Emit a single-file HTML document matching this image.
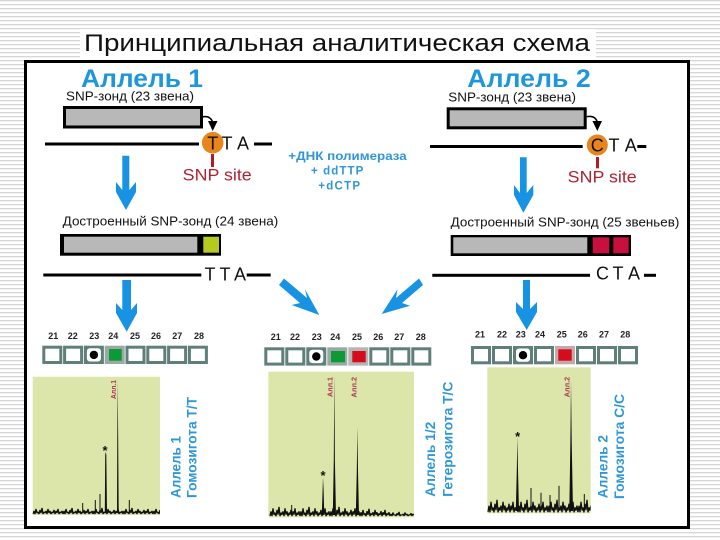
<!DOCTYPE html>
<html><head><meta charset="utf-8"><style>
html,body{margin:0;padding:0;background:#fff}
svg{display:block}
text{font-family:"Liberation Sans",sans-serif}
.b{fill:#1e96dc;font-weight:bold}
.k{fill:#111}
.n{font-size:9px;font-weight:bold;fill:#222;text-anchor:middle}
.l{font-size:7px;font-weight:bold;fill:#a8324e}
.r{fill:#2d97d8;font-weight:bold;font-size:14px}
.a{fill:#1893e4}
.s{fill:#dde6aa}
.p{fill:none;stroke:#111;stroke-width:1.3;stroke-linejoin:bevel}
.q{fill:none;stroke:#111;stroke-width:1}
</style></head><body>
<svg width="720" height="540" viewBox="0 0 720 540" xmlns="http://www.w3.org/2000/svg">
<defs>
<pattern id="st" width="4" height="4" patternUnits="userSpaceOnUse"><rect width="4" height="4" fill="#fff"/><rect y="0" width="4" height="1.3" fill="#d6d6d6"/></pattern>
<g id="cell"><rect x="0" y="0" width="20" height="18.3" fill="#5f7f7a"/><rect x="3" y="3" width="14" height="12.3" fill="#fff"/></g>
<g id="dot"><rect x="0" y="0" width="20" height="18.3" fill="#5f7f7a"/><rect x="3" y="2.5" width="14" height="13.3" rx="3" fill="#fff"/><circle cx="10" cy="9.2" r="4.2" fill="#000"/></g>
<polyline id="nz" class="p" points="0,0 1,-3 2,0 3,-5 4,-1 5,-2 6,0 7,-4 8,-1 9,-6 10,0 11,-2 12,-1 13,-3 14,0 15,-5 16,-1 17,-3 18,0 19,-2 20,-1 21,-4 22,0 23,-3 24,-1 25,-5 26,0 27,-2 28,-1 29,-3 30,0"/>
<clipPath id="c1"><rect x="32.7" y="376.7" width="127.3" height="138.3"/></clipPath>
<clipPath id="c2"><rect x="268.3" y="371.7" width="145.7" height="145.6"/></clipPath>
<clipPath id="c3"><rect x="487.3" y="367.3" width="103.4" height="146"/></clipPath>
</defs>
<rect width="720" height="540" fill="url(#st)"/>
<rect x="80" y="29" width="516" height="31" fill="#fff"/>
<text x="84" y="51" font-size="24" textLength="506" lengthAdjust="spacingAndGlyphs" fill="#111">Принципиальная аналитическая схема</text>
<rect x="25.5" y="61.5" width="663" height="466" fill="#fff" stroke="#000" stroke-width="3"/>

<!-- Allele 1 -->
<text x="81" y="87" class="b" font-size="25" textLength="122" lengthAdjust="spacingAndGlyphs">Аллель 1</text>
<text x="66" y="100.5" class="k" font-size="12.5" textLength="128" lengthAdjust="spacingAndGlyphs">SNP-зонд (23 звена)</text>
<rect x="64.5" y="107.5" width="137" height="19.5" fill="#b8b8b8" stroke="#000" stroke-width="3"/>
<path d="M202 117 Q210 115 212.7 122" fill="none" stroke="#000" stroke-width="1.5"/>
<polygon points="208,121 217.5,121 212.7,131" fill="#000"/>
<rect x="45" y="142.5" width="154" height="3" fill="#000"/>
<circle cx="212.7" cy="142.7" r="10.8" fill="#e8851c"/>
<text x="212.7" y="149.3" font-size="18" text-anchor="middle" class="k">T</text>
<text x="227" y="149.3" font-size="18" text-anchor="middle" class="k">T</text>
<text x="243" y="149.3" font-size="18" text-anchor="middle" class="k">A</text>
<rect x="254" y="142.5" width="18" height="3" fill="#000"/>
<rect x="211" y="154" width="3" height="13" fill="#b01c2e"/>
<text x="182.7" y="180.7" font-size="17" fill="#b0202f" textLength="69" lengthAdjust="spacingAndGlyphs">SNP site</text>
<polygon class="a" points="122.3,155.7 129.3,155.7 129.3,190 136,182 136,192 126,210 116,192 116,182 122.3,190"/>
<text x="62.7" y="225.7" class="k" font-size="12.5" textLength="215.5" lengthAdjust="spacingAndGlyphs">Достроенный SNP-зонд (24 звена)</text>
<rect x="60" y="234" width="161" height="21.7" fill="#000"/>
<rect x="64" y="236.7" width="133.3" height="16" fill="#b8b8b8"/>
<rect x="203.3" y="236.7" width="15.7" height="16" fill="#b5c91e"/>
<rect x="43.3" y="273.5" width="158" height="3" fill="#000"/>
<text x="210" y="280.5" font-size="18" text-anchor="middle" class="k">T</text>
<text x="225" y="280.5" font-size="18" text-anchor="middle" class="k">T</text>
<text x="240" y="280.5" font-size="18" text-anchor="middle" class="k">A</text>
<rect x="246.7" y="273.5" width="24" height="3" fill="#000"/>
<polygon class="a" points="122.3,280 131,280 131,310 137,303 137,313 126.7,331.7 116,313 116,303 122.3,310"/>

<!-- Allele 2 -->
<text x="467.3" y="87" class="b" font-size="25" textLength="123.4" lengthAdjust="spacingAndGlyphs">Аллель 2</text>
<text x="448.3" y="101.7" class="k" font-size="12.5" textLength="127.7" lengthAdjust="spacingAndGlyphs">SNP-зонд (23 звена)</text>
<rect x="448.2" y="108.8" width="137" height="19" fill="#b8b8b8" stroke="#000" stroke-width="3"/>
<path d="M586.7 116.7 Q595 115 597.3 122" fill="none" stroke="#000" stroke-width="1.5"/>
<polygon points="592.5,121 602,121 597.3,131" fill="#000"/>
<rect x="430" y="145" width="152.7" height="3" fill="#000"/>
<circle cx="597.3" cy="145" r="10.5" fill="#e8851c"/>
<text x="597.3" y="151.7" font-size="18" text-anchor="middle" class="k">C</text>
<text x="614" y="151.7" font-size="18" text-anchor="middle" class="k">T</text>
<text x="630.7" y="151.7" font-size="18" text-anchor="middle" class="k">A</text>
<rect x="637.3" y="145" width="9" height="3" fill="#000"/>
<rect x="596" y="157" width="3" height="11.3" fill="#b01c2e"/>
<text x="567.7" y="182.7" font-size="17" fill="#b0202f" textLength="69" lengthAdjust="spacingAndGlyphs">SNP site</text>
<polygon class="a" points="520,157.3 526.7,157.3 526.7,193 533.3,185 533.3,195 523.3,212.7 514,195 514,185 520,193"/>
<text x="450.7" y="226.7" class="k" font-size="12.5" textLength="228.6" lengthAdjust="spacingAndGlyphs">Достроенный SNP-зонд (25 звеньев)</text>
<rect x="450.7" y="235" width="180.3" height="21" fill="#000"/>
<rect x="453.3" y="237.3" width="134" height="16" fill="#b8b8b8"/>
<rect x="592.7" y="237.3" width="16.6" height="16" fill="#c8103f"/>
<rect x="613.3" y="237.3" width="15.4" height="16" fill="#c8103f"/>
<rect x="432.3" y="273.8" width="157.7" height="3" fill="#000"/>
<text x="602.5" y="279.5" font-size="18" text-anchor="middle" class="k">C</text>
<text x="618" y="279.5" font-size="18" text-anchor="middle" class="k">T</text>
<text x="634" y="279.5" font-size="18" text-anchor="middle" class="k">A</text>
<rect x="644" y="273.8" width="12" height="3" fill="#000"/>
<polygon class="a" points="523,280 530,280 530,309 537,302 537,312 526.7,330 516,312 516,302 523,309"/>

<!-- centre -->
<text x="288.3" y="160" font-size="11.5" font-weight="bold" fill="#2f96d8" textLength="118.4" lengthAdjust="spacingAndGlyphs">+ДНК полимераза</text>
<text x="311" y="174.3" font-size="11.5" font-weight="bold" fill="#2f96d8" textLength="52.3" lengthAdjust="spacing">+ ddTTP</text>
<text x="318.3" y="189.3" font-size="11.5" font-weight="bold" fill="#2f96d8" textLength="41.7" lengthAdjust="spacing">+dCTP</text>
<polygon class="a" points="279,285 284,278.5 307,298 305,289.3 319.3,315 291.7,305 300,303"/>
<polygon class="a" points="423,285 419,278.5 396,298 397.5,289.3 381.7,314 410,305.7 402,303"/>

<!-- left row -->
<g class="n"><text x="53.3" y="339">21</text><text x="72.7" y="339">22</text><text x="94.3" y="339">23</text><text x="113.3" y="339">24</text><text x="135" y="339">25</text><text x="156" y="339">26</text><text x="177.3" y="339">27</text><text x="199" y="339">28</text></g>
<use href="#cell" x="42.3" y="345.7"/><use href="#cell" x="63.1" y="345.7"/><use href="#dot" x="83.9" y="345.7"/>
<rect x="104.7" y="345.7" width="20" height="18.3" fill="#9aa9a5"/><rect x="109" y="349" width="12.7" height="11.7" fill="#0b9a36"/>
<use href="#cell" x="125.5" y="345.7"/><use href="#cell" x="146.3" y="345.7"/><use href="#cell" x="167.1" y="345.7"/><use href="#cell" x="187.9" y="345.7"/>
<rect class="s" x="32.7" y="376.7" width="127.3" height="138.3"/>
<g clip-path="url(#c1)">
<use href="#nz" x="33" y="514"/><use href="#nz" x="63" y="514"/><use href="#nz" x="93" y="514"/><use href="#nz" x="123" y="514"/><use href="#nz" x="153" y="514"/>
<path class="q" d="M95.3 512V500M100 512V494M82.7 512V503M129.3 512V500"/>
<polygon fill="#111" points="104.8,513 105.2,455 105.7,451.7 106.3,455 107,513"/>
<polygon fill="#111" points="117,513 117.3,440 117.7,380 118.2,440 118.7,513"/>
</g>
<text x="105" y="455" font-size="13" font-weight="bold" text-anchor="middle" fill="#111">*</text>
<text class="l" transform="translate(116,399) rotate(-90)" textLength="19" lengthAdjust="spacingAndGlyphs">Алл.1</text>
<text class="r" transform="translate(180.7,498) rotate(-90)" textLength="62" lengthAdjust="spacingAndGlyphs">Аллель 1</text>
<text class="r" transform="translate(196.7,498) rotate(-90)" textLength="101" lengthAdjust="spacingAndGlyphs">Гомозигота Т/Т</text>

<!-- mid row -->
<g class="n"><text x="275.7" y="340">21</text><text x="295" y="340">22</text><text x="316.7" y="340">23</text><text x="335.3" y="340">24</text><text x="357" y="340">25</text><text x="378.3" y="340">26</text><text x="399.3" y="340">27</text><text x="420.7" y="340">28</text></g>
<use href="#cell" x="264.3" y="347.3"/><use href="#cell" x="285.3" y="347.3"/><use href="#dot" x="306.3" y="347.3"/>
<rect x="327.3" y="347.3" width="20" height="18.3" fill="#9aa9a5"/><rect x="331" y="351" width="14" height="11.3" fill="#0b9a36"/>
<rect x="348.3" y="347.3" width="20" height="18.3" fill="#b5b5b5"/><rect x="352.3" y="351" width="13.4" height="11.3" fill="#d40c1c"/>
<use href="#cell" x="369.3" y="347.3"/><use href="#cell" x="390.3" y="347.3"/><use href="#cell" x="411.3" y="347.3"/>
<rect class="s" x="268.3" y="371.7" width="145.7" height="145.6"/>
<g clip-path="url(#c2)">
<use href="#nz" transform="translate(270,516) scale(1,1.5)"/><use href="#nz" transform="translate(300,516) scale(1,1.5)"/><use href="#nz" transform="translate(330,516) scale(1,1.5)"/><use href="#nz" transform="translate(360,516) scale(1,1.2)"/><use href="#nz" transform="translate(390,516) scale(1,0.7)"/>
<path class="q" d="M291.7 515V505"/>
<polygon fill="#111" points="321.8,515 322.6,490 323,476.7 323.6,490 324.3,515"/>
<polygon fill="#111" points="332.8,515 333.8,460 334.3,373.3 334.9,460 336,515"/>
<polygon fill="#111" points="355.8,515 356.8,470 357.3,426.7 358,470 359,515"/>
</g>
<text x="323" y="480" font-size="13" font-weight="bold" text-anchor="middle" fill="#111">*</text>
<text class="l" transform="translate(332.5,397) rotate(-90)" textLength="20" lengthAdjust="spacingAndGlyphs">Алл.1</text>
<text class="l" transform="translate(356.5,397.5) rotate(-90)" textLength="20.5" lengthAdjust="spacingAndGlyphs">Алл.2</text>
<text class="r" transform="translate(435,496.7) rotate(-90)" textLength="75" lengthAdjust="spacingAndGlyphs">Аллель 1/2</text>
<text class="r" transform="translate(452.3,496.7) rotate(-90)" textLength="115" lengthAdjust="spacingAndGlyphs">Гетерозигота Т/С</text>

<!-- right row -->
<g class="n"><text x="480" y="337.5">21</text><text x="502" y="337.5">22</text><text x="520.7" y="337.5">23</text><text x="540" y="337.5">24</text><text x="561.7" y="337.5">25</text><text x="582.7" y="337.5">26</text><text x="604" y="337.5">27</text><text x="625.3" y="337.5">28</text></g>
<use href="#cell" x="471" y="346"/><use href="#cell" x="492" y="346"/><use href="#dot" x="513" y="346"/><use href="#cell" x="534" y="346"/>
<rect x="555" y="346" width="20" height="18.3" fill="#c4a9ab"/><rect x="558.3" y="349.3" width="13.4" height="11.4" fill="#d40c1c"/>
<use href="#cell" x="576" y="346"/><use href="#cell" x="597" y="346"/><use href="#cell" x="618" y="346"/>
<rect class="s" x="487.3" y="367.3" width="103.4" height="146"/>
<g clip-path="url(#c3)">
<use href="#nz" transform="translate(488,512) scale(1,2)"/><use href="#nz" transform="translate(518,512) scale(1,2)"/><use href="#nz" transform="translate(548,512) scale(1,2)"/><use href="#nz" transform="translate(578,512) scale(1,2)"/>
<path class="q" d="M531 510V488M541 510V492.7M550 510V495M559 510V485.7M584.3 510V494"/>
<polygon fill="#111" points="515.8,511 516.8,470 517.3,436.7 518,470 519,511"/>
<polygon fill="#111" points="569.3,511 570.4,440 571,380 571.7,440 573,511"/>
</g>
<text x="517.7" y="441" font-size="13" font-weight="bold" text-anchor="middle" fill="#111">*</text>
<text class="l" transform="translate(569.5,397.3) rotate(-90)" textLength="20.5" lengthAdjust="spacingAndGlyphs">Алл.2</text>
<text class="r" transform="translate(607.3,498.3) rotate(-90)" textLength="63.3" lengthAdjust="spacingAndGlyphs">Аллель 2</text>
<text class="r" transform="translate(624,499) rotate(-90)" textLength="105" lengthAdjust="spacingAndGlyphs">Гомозигота С/С</text>
</svg>
</body></html>
